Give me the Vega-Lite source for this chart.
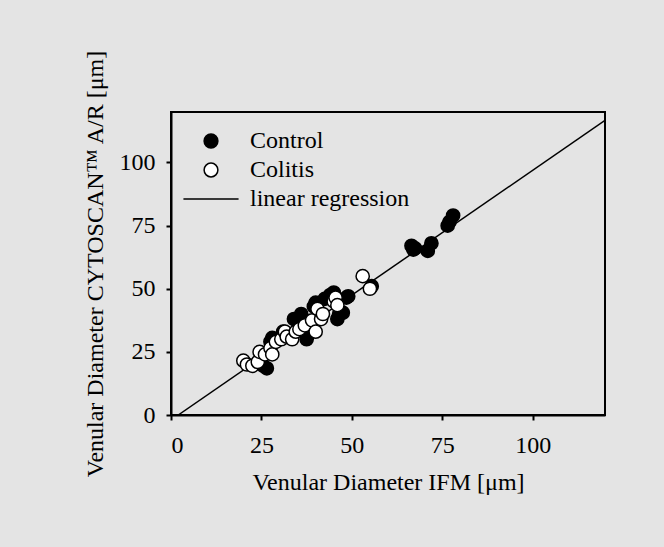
{
  "$schema": "https://vega.github.io/schema/vega-lite/v6.json",
  "autosize": {"type": "none"},
  "padding": {"left": 171, "top": 112, "right": 59, "bottom": 132},
  "width": 434,
  "height": 303,
  "background": "#e4e4e4",
  "config": {
    "view": {"stroke": "black", "strokeWidth": 2, "fill": null},
    "font": "Liberation Serif",
    "axis": {
      "grid": false,
      "labelFont": "Liberation Serif",
      "labelFontSize": 24,
      "labelColor": "black",
      "titleFont": "Liberation Serif",
      "titleFontSize": 24,
      "titleFontWeight": "normal",
      "titleColor": "black",
      "domainColor": "black",
      "domainWidth": 2,
      "tickColor": "black",
      "tickWidth": 2,
      "tickSize": 5
    },
    "legend": {
      "labelFont": "Liberation Serif",
      "labelFontSize": 24,
      "labelColor": "black"
    }
  },
  "datasets": {
    "pts": [
      {"ifm": 25.5, "cyto": 19.5, "group": "Control"},
      {"ifm": 26.5, "cyto": 18.5, "group": "Control"},
      {"ifm": 27.5, "cyto": 29, "group": "Control"},
      {"ifm": 28, "cyto": 30.5, "group": "Control"},
      {"ifm": 31, "cyto": 33, "group": "Control"},
      {"ifm": 34, "cyto": 38, "group": "Control"},
      {"ifm": 35, "cyto": 37, "group": "Control"},
      {"ifm": 36, "cyto": 40, "group": "Control"},
      {"ifm": 37.5, "cyto": 30, "group": "Control"},
      {"ifm": 38, "cyto": 32, "group": "Control"},
      {"ifm": 39.5, "cyto": 43, "group": "Control"},
      {"ifm": 40, "cyto": 44.5, "group": "Control"},
      {"ifm": 41, "cyto": 40, "group": "Control"},
      {"ifm": 42.5, "cyto": 46, "group": "Control"},
      {"ifm": 44, "cyto": 47.5, "group": "Control"},
      {"ifm": 45, "cyto": 48.5, "group": "Control"},
      {"ifm": 46, "cyto": 38, "group": "Control"},
      {"ifm": 46.5, "cyto": 40, "group": "Control"},
      {"ifm": 47.5, "cyto": 40.5, "group": "Control"},
      {"ifm": 48.5, "cyto": 46.5, "group": "Control"},
      {"ifm": 49, "cyto": 47, "group": "Control"},
      {"ifm": 55.5, "cyto": 51, "group": "Control"},
      {"ifm": 67, "cyto": 65.5, "group": "Control"},
      {"ifm": 66.5, "cyto": 67, "group": "Control"},
      {"ifm": 67.5, "cyto": 66, "group": "Control"},
      {"ifm": 71, "cyto": 65, "group": "Control"},
      {"ifm": 72, "cyto": 68, "group": "Control"},
      {"ifm": 76.5, "cyto": 75, "group": "Control"},
      {"ifm": 77, "cyto": 76.5, "group": "Control"},
      {"ifm": 78, "cyto": 79, "group": "Control"},
      {"ifm": 20, "cyto": 21.5, "group": "Colitis"},
      {"ifm": 21, "cyto": 20, "group": "Colitis"},
      {"ifm": 22.5, "cyto": 19.5, "group": "Colitis"},
      {"ifm": 24, "cyto": 21, "group": "Colitis"},
      {"ifm": 24.5, "cyto": 25, "group": "Colitis"},
      {"ifm": 26, "cyto": 24, "group": "Colitis"},
      {"ifm": 27.5, "cyto": 26.5, "group": "Colitis"},
      {"ifm": 28, "cyto": 24, "group": "Colitis"},
      {"ifm": 29, "cyto": 29, "group": "Colitis"},
      {"ifm": 30.5, "cyto": 30, "group": "Colitis"},
      {"ifm": 31.5, "cyto": 33, "group": "Colitis"},
      {"ifm": 32, "cyto": 31, "group": "Colitis"},
      {"ifm": 33.5, "cyto": 30, "group": "Colitis"},
      {"ifm": 34.5, "cyto": 33, "group": "Colitis"},
      {"ifm": 35.5, "cyto": 34, "group": "Colitis"},
      {"ifm": 37, "cyto": 35.5, "group": "Colitis"},
      {"ifm": 39, "cyto": 37.5, "group": "Colitis"},
      {"ifm": 40, "cyto": 33, "group": "Colitis"},
      {"ifm": 40.5, "cyto": 42, "group": "Colitis"},
      {"ifm": 41.5, "cyto": 38, "group": "Colitis"},
      {"ifm": 42, "cyto": 40, "group": "Colitis"},
      {"ifm": 45, "cyto": 45, "group": "Colitis"},
      {"ifm": 45.5, "cyto": 46.5, "group": "Colitis"},
      {"ifm": 46, "cyto": 43.5, "group": "Colitis"},
      {"ifm": 53, "cyto": 55, "group": "Colitis"},
      {"ifm": 55, "cyto": 50, "group": "Colitis"}
    ],
    "reg": [
      {"ifm": 2, "cyto": 0},
      {"ifm": 120, "cyto": 116.7}
    ]
  },
  "layer": [
    {
      "data": {"name": "reg"},
      "mark": {"type": "line", "color": "black", "strokeWidth": 1.5, "clip": true},
      "encoding": {
        "x": {"field": "ifm", "type": "quantitative"},
        "y": {"field": "cyto", "type": "quantitative"}
      }
    },
    {
      "data": {"name": "pts"},
      "mark": {"type": "point", "filled": true, "stroke": "black", "strokeWidth": 1.5, "size": 175, "opacity": 1},
      "encoding": {
        "x": {
          "field": "ifm", "type": "quantitative",
          "scale": {"domain": [0, 120], "nice": false},
          "axis": {"values": [0, 25, 50, 75, 100], "labelPadding": 13, "titlePadding": 13, "title": "Venular Diameter IFM [μm]",
            "encode": {"labels": {"update": {"font": {"value": "Liberation Serif"}}}}}
        },
        "y": {
          "field": "cyto", "type": "quantitative",
          "scale": {"domain": [0, 120], "nice": false},
          "axis": {"values": [0, 25, 50, 75, 100], "labelPadding": 11, "titlePadding": 12, "title": "Venular Diameter CYTOSCAN™ A/R [μm]",
            "encode": {"labels": {"update": {"font": {"value": "Liberation Serif"}}}}}
        },
        "fill": {
          "field": "group", "type": "nominal",
          "scale": {"domain": ["Control", "Colitis", "linear regression"], "range": ["black", "white", "black"]},
          "legend": {
            "title": null,
            "orient": "none",
            "legendX": 28,
            "legendY": 17,
            "labelOffset": 27,
            "rowPadding": 5,
            "labelFont": "Liberation Serif",
            "labelFontSize": 24,
            "labelColor": "black",
            "symbolStrokeColor": "black",
            "symbolStrokeWidth": 1.5,
            "symbolSize": 190,
            "encode": {"labels": {"update": {"font": {"value": "Liberation Serif"}}}}
          }
        },
        "shape": {
          "field": "group", "type": "nominal",
          "scale": {"domain": ["Control", "Colitis", "linear regression"], "range": ["circle", "circle", "M-4,0H4"]}
        }
      }
    }
  ]
}
